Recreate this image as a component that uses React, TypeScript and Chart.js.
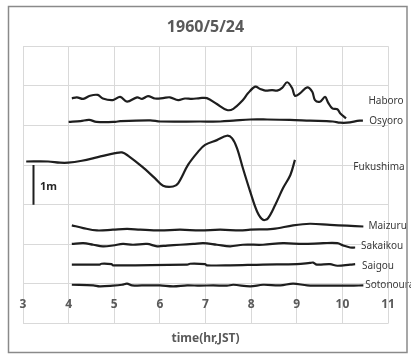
import React, { useEffect, useRef } from "react";
import { Chart, registerables } from "chart.js";

Chart.register(...registerables);

const titleText = "1960/5/24";
const xAxisTitle = "time(hr,JST)";
const xTickValues = [3, 4, 5, 6, 7, 8, 9, 10, 11];

const stationNames = ["Haboro", "Osyoro", "Fukushima", "Maizuru", "Sakaikou", "Saigou", "Sotonoura"];

const haboroT = [4.07, 4.18, 4.32, 4.47, 4.64, 4.75, 4.97, 5.13, 5.28, 5.5, 5.61, 5.74, 5.89, 6.07, 6.22, 6.4, 6.55, 6.7, 6.88, 7.03, 7.25, 7.47, 7.61, 7.82, 7.93, 8.09, 8.2, 8.31, 8.46, 8.57, 8.68, 8.79, 8.9, 8.96, 9.07, 9.23, 9.34, 9.4, 9.51, 9.62, 9.69, 9.78, 9.89, 9.95, 10.08];
const haboroV = [5.685, 5.71, 5.67, 5.75, 5.77, 5.68, 5.64, 5.72, 5.6, 5.71, 5.67, 5.74, 5.68, 5.69, 5.71, 5.64, 5.68, 5.67, 5.69, 5.69, 5.54, 5.39, 5.42, 5.64, 5.81, 5.98, 5.92, 5.88, 5.89, 5.88, 5.95, 6.09, 5.94, 5.75, 5.81, 5.96, 5.85, 5.64, 5.6, 5.72, 5.57, 5.43, 5.41, 5.31, 5.18];

const osyoroT = [4.0, 4.26, 4.45, 4.61, 5.02, 5.13, 5.79, 6.01, 6.88, 7.32, 7.61, 7.98, 8.35, 8.85, 9.29, 9.79, 9.95, 10.1, 10.38, 10.45];
const osyoroV = [5.09, 5.11, 5.14, 5.09, 5.09, 5.11, 5.13, 5.1, 5.1, 5.1, 5.12, 5.15, 5.15, 5.14, 5.12, 5.1, 5.07, 5.07, 5.12, 5.12];

const fukushimaT = [3.07, 3.55, 3.81, 3.99, 4.29, 4.64, 5.02, 5.17, 5.3, 5.61, 5.89, 6.07, 6.29, 6.4, 6.62, 6.84, 6.99, 7.25, 7.47, 7.58, 7.69, 7.82, 7.98, 8.13, 8.26, 8.37, 8.53, 8.7, 8.86, 8.96];
const fukushimaV = [4.09, 4.09, 4.06, 4.06, 4.11, 4.2, 4.3, 4.32, 4.24, 3.96, 3.67, 3.48, 3.46, 3.54, 4.01, 4.34, 4.51, 4.63, 4.74, 4.68, 4.43, 3.92, 3.33, 2.83, 2.62, 2.66, 3.0, 3.42, 3.75, 4.13];

const maizuruT = [4.07, 4.32, 4.62, 4.97, 5.28, 5.57, 6.0, 6.44, 6.88, 7.32, 7.76, 7.98, 8.48, 8.92, 9.29, 9.73, 10.1, 10.46];
const maizuruV = [2.48, 2.41, 2.35, 2.37, 2.39, 2.37, 2.35, 2.37, 2.35, 2.37, 2.35, 2.37, 2.39, 2.48, 2.52, 2.49, 2.47, 2.45];

const sakaikouT = [4.07, 4.32, 4.54, 4.75, 4.97, 5.19, 5.41, 5.72, 5.94, 6.16, 6.44, 6.73, 6.95, 7.25, 7.54, 7.82, 8.26, 8.7, 9.14, 9.58, 9.89, 10.02, 10.17, 10.28];
const sakaikouV = [2.01, 2.03, 1.99, 1.95, 1.97, 2.01, 1.99, 2.01, 1.95, 1.97, 1.99, 2.01, 2.03, 1.99, 1.95, 1.99, 1.99, 2.03, 2.01, 2.03, 2.03, 1.97, 1.92, 1.92];

const saigouT = [4.07, 4.68, 4.72, 4.94, 4.97, 6.6, 6.66, 6.99, 7.03, 7.54, 8.26, 9.0, 9.29, 9.36, 9.44, 9.73, 9.89, 10.17, 10.28];
const saigouV = [1.49, 1.49, 1.51, 1.5, 1.47, 1.49, 1.51, 1.5, 1.47, 1.47, 1.49, 1.5, 1.53, 1.54, 1.49, 1.5, 1.46, 1.49, 1.5];

const sotonouraT = [4.07, 4.54, 4.68, 4.97, 5.17, 5.28, 5.39, 5.72, 6.0, 6.29, 6.6, 6.88, 7.17, 7.47, 7.61, 7.98, 8.26, 8.64, 8.92, 9.23, 9.73, 10.17, 10.46];
const sotonouraV = [0.98, 0.965, 0.94, 0.957, 0.98, 1.01, 0.965, 0.965, 0.965, 0.94, 0.965, 0.957, 0.965, 0.957, 0.98, 0.94, 0.98, 0.965, 1.01, 0.965, 0.957, 0.957, 0.965];

// label anchors (time, level) for station names
const labelT = [10.57, 10.59, 10.24, 10.57, 10.41, 10.43, 10.5];
const labelV = [5.62, 5.11, 3.96, 2.45, 1.96, 1.46, 0.98];

// 1 m scale bar
const scaleBarT = [3.23, 3.23];
const scaleBarV = [3, 4];
const scaleBarText = "1m";
const scaleBarLabelT = 3.37;
const scaleBarLabelV = 3.45;

const seriesT = [haboroT, osyoroT, fukushimaT, maizuruT, sakaikouT, saigouT, sotonouraT];
const seriesV = [haboroV, osyoroV, fukushimaV, maizuruV, sakaikouV, saigouV, sotonouraV];

const LINE = "#1e1e1e";
const FONT = "'Noto Sans', 'DejaVu Sans', sans-serif";

export default function App() {
  const ref = useRef<HTMLCanvasElement | null>(null);

  useEffect(() => {
    if (!ref.current) return;
    const datasets: any[] = seriesT.map((ts, i) => ({
      label: stationNames[i],
      data: ts.map((t, j) => ({ x: t, y: seriesV[i][j] })),
      borderColor: LINE,
      borderWidth: 2.2,
      pointRadius: 0,
      fill: false,
      tension: 0.35,
      xAxisID: "x",
      yAxisID: "y",
    }));
    datasets.push({
      label: "scale",
      data: scaleBarT.map((t, j) => ({ x: t, y: scaleBarV[j] })),
      borderColor: LINE,
      borderWidth: 2,
      pointRadius: 0,
      tension: 0,
      fill: false,
      xAxisID: "x",
      yAxisID: "y",
    });

    const textPlugin = {
      id: "textLabels",
      afterDraw(chart: any) {
        const ctx = chart.ctx;
        const xs = chart.scales.x;
        const ys = chart.scales.y;
        ctx.save();
        ctx.fillStyle = "#3a3a3a";
        ctx.font = `10px ${FONT}`;
        ctx.textAlign = "left";
        ctx.textBaseline = "middle";
        stationNames.forEach((name, i) => {
          ctx.fillText(name, xs.getPixelForValue(labelT[i]), ys.getPixelForValue(labelV[i]));
        });
        ctx.fillStyle = "#262626";
        ctx.font = `bold 11px ${FONT}`;
        ctx.fillText(scaleBarText, xs.getPixelForValue(scaleBarLabelT), ys.getPixelForValue(scaleBarLabelV));
        ctx.strokeStyle = "#8a8a8a";
        ctx.lineWidth = 1.5;
        ctx.strokeRect(8.5, 6.5, 398.5, 346);
        ctx.restore();
      },
    };

    const chart = new Chart(ref.current, {
      type: "line",
      data: { datasets },
      options: {
        animation: false,
        responsive: false,
        events: [],
        layout: { padding: { left: 23, right: 23, top: 8, bottom: 5 } },
        plugins: {
          legend: { display: false },
          tooltip: { enabled: false },
          title: {
            display: true,
            text: titleText,
            color: "#595959",
            font: { size: 16, weight: "bold", family: FONT },
            padding: { top: 10, bottom: 9 },
          },
        },
        scales: {
          x: {
            type: "linear",
            min: 3,
            max: 11,
            position: { y: 1 } as any,
            afterBuildTicks: (scale: any) => {
              scale.ticks = xTickValues.map((v) => ({ value: v }));
            },
            ticks: {
              color: "#595959",
              font: { size: 12, weight: "bold", family: FONT },
              padding: 13,
              maxRotation: 0,
              autoSkip: false,
            },
            grid: { color: "#d9d9d9", lineWidth: 1, drawTicks: false },
            border: { display: false },
          },
          x2: {
            type: "linear",
            position: "bottom",
            display: true,
            ticks: { display: false },
            grid: { display: false, drawTicks: false },
            border: { display: false },
            title: {
              display: true,
              text: xAxisTitle,
              color: "#595959",
              font: { size: 12, weight: "bold", family: FONT },
              padding: { top: 8, bottom: 4 },
            },
          },
          y: {
            type: "linear",
            min: 0,
            max: 7,
            ticks: { display: false, stepSize: 1 },
            grid: { color: "#d9d9d9", lineWidth: 1, drawTicks: false },
            border: { display: false },
          },
        },
      } as any,
      plugins: [textPlugin],
    });
    return () => chart.destroy();
  }, []);

  return (
    <div style={{ position: "absolute", left: 0, top: 0, width: 411, height: 355, background: "#fff" }}>
      <canvas ref={ref} width={411} height={355} style={{ display: "block" }} />
    </div>
  );
}
